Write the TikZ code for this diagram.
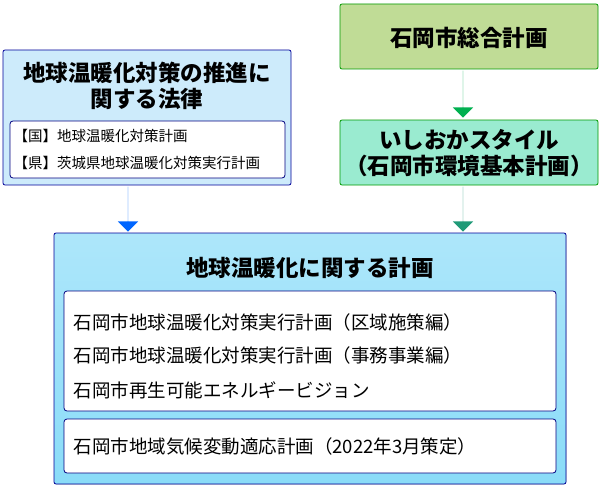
\documentclass[tikz,border=0pt]{standalone}
\usepackage{fontspec}
\setmainfont{Noto Sans CJK JP}
\usetikzlibrary{positioning,shapes.arrows}
\definecolor{lawblue}{HTML}{CDEBFB}
\definecolor{planblue}{HTML}{8ADCF8}
\definecolor{topgreen}{HTML}{C0DC96}
\definecolor{stylegreen}{HTML}{9AEBD0}
\begin{document}
\begin{tikzpicture}[x=1pt,y=-1pt,
  box/.style={draw=#1!60!black,rounded corners=2pt,line width=0.8pt},
  inbox/.style={draw=blue!50!black,fill=white,rounded corners=3pt,line width=0.8pt},
  big/.style={font=\fontsize{22.5}{26}\selectfont\bfseries,align=center},
  txt/.style={font=\fontsize{18.5}{22}\selectfont,anchor=west},
  sml/.style={font=\fontsize{14.5}{17}\selectfont,anchor=west},
  blk/.style={single arrow,single arrow head extend=10pt,shape border rotate=270,minimum height=#1,inner sep=0pt,minimum width=16pt,single arrow tip angle=90}]
  \useasboundingbox (0,0) rectangle (600,487);
  % left law box
  \filldraw[box=blue,fill=lawblue] (3,50) rectangle (291,185);
  \node[big] (law) at (147,86) {地球温暖化対策の推進に\\関する法律};
  \filldraw[inbox] (10,121) rectangle (285,178);
  \node[sml] (kuni) at (10,136) {【国】地球温暖化対策計画};
  \node[sml] (ken) at (10,163) {【県】茨城県地球温暖化対策実行計画};
  % right boxes
  \filldraw[box=green,fill=topgreen] (340,4) rectangle (598,69);
  \node[big] (sogo) at (469,38) {石岡市総合計画};
  \filldraw[box=green,fill=stylegreen] (340,120) rectangle (598,185);
  \node[big] (style) at (469,153) {いしおかスタイル\\（石岡市環境基本計画）};
  % main box
  \filldraw[box=blue,top color=planblue!70,bottom color=planblue] (54,233) rectangle (566,484);
  \node[big] (plan) at (310,268) {地球温暖化に関する計画};
  \filldraw[inbox] (64,291) rectangle (556,411);
  \node[txt] (p1) at (70,322) {石岡市地球温暖化対策実行計画（区域施策編）};
  \node[txt] (p2) at (70,355) {石岡市地球温暖化対策実行計画（事務事業編）};
  \node[txt] (p3) at (70,390) {石岡市再生可能エネルギービジョン};
  \filldraw[inbox] (64,419) rectangle (556,473);
  \node[txt] (p4) at (70,446) {石岡市地域気候変動適応計画（2022年3月策定）};
  % arrows
  \node[blk=45pt,fill={rgb,255:red,0;green,102;blue,255}] (a1) at (128,209) {};
  \node[blk=47pt,fill={rgb,255:red,0;green,176;blue,80}] (a2) at (463,94) {};
  \node[blk=45pt,fill={rgb,255:red,32;green,154;blue,120}] (a3) at (463,209) {};
\end{tikzpicture}
\end{document}
